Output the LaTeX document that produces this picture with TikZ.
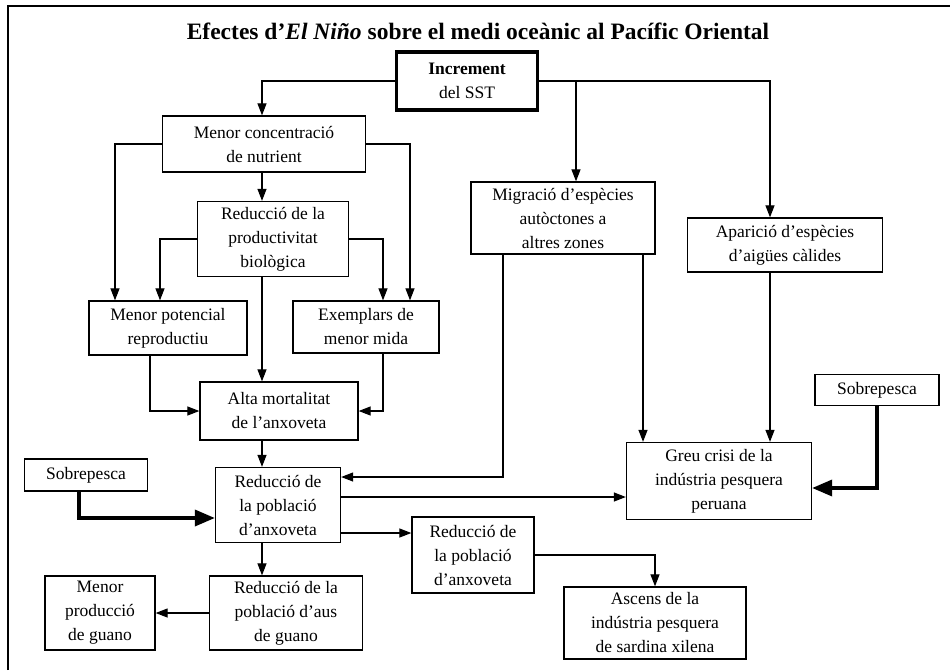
\documentclass[tikz,border=0pt]{standalone}
\usepackage{fontspec}
\setmainfont{Liberation Serif}
\usetikzlibrary{arrows.meta,calc}

\begin{document}
\begin{tikzpicture}[
  x=1pt, y=-1pt,
  font=\fontsize{17.5}{24}\selectfont,
  box/.style={draw, line width=1.3pt, align=center, inner sep=3pt},
  keybox/.style={box, line width=3.6pt},
  arrow/.style={-{Triangle[length=12pt,width=9pt]}, line width=1.2pt},
  heavy/.style={-{Triangle[length=20pt,width=16pt]}, line width=3.5pt}
]
\useasboundingbox (0,0) rectangle (950,670);
\draw[line width=1.5pt] (8,670) -- (8,6) -- (950,6);

\node[font=\fontsize{23.5}{26}\selectfont\bfseries] (title) at (478,31)
  {Efectes d’\textit{El Niño} sobre el medi oceànic al Pacífic Oriental};

% boxes
\node[keybox, minimum width=141pt, minimum height=58pt] (sst) at (467,81) {\textbf{Increment}\\del SST};
\node[box, minimum width=203pt, minimum height=56pt] (nutr) at (264,144) {Menor concentració\\de nutrient};
\node[box, minimum width=151pt, minimum height=75pt] (prod) at (273,239) {Reducció de la\\productivitat\\biològica};
\node[box, minimum width=158pt, minimum height=54pt] (pot) at (168,328) {Menor potencial\\reproductiu};
\node[box, minimum width=146pt, minimum height=52pt] (ex) at (366,327) {Exemplars de\\menor mida};
\node[box, minimum width=158pt, minimum height=58pt] (alta) at (279,411) {Alta mortalitat\\de l’anxoveta};
\node[box, minimum width=125pt, minimum height=75pt] (red1) at (278,505) {Reducció de\\la població\\d’anxoveta};
\node[box, minimum width=123pt, minimum height=32pt] (sobL) at (86,475) {Sobrepesca};
\node[box, minimum width=110pt, minimum height=74pt] (guano) at (100,613) {Menor\\producció\\de guano};
\node[box, minimum width=153pt, minimum height=74pt] (aus) at (286,613) {Reducció de la\\població d’aus\\de guano};
\node[box, minimum width=122pt, minimum height=76pt] (red2) at (473,555) {Reducció de\\la població\\d’anxoveta};
\node[box, minimum width=182pt, minimum height=72pt] (ascens) at (655,623) {Ascens de la\\indústria pesquera\\de sardina xilena};
\node[box, minimum width=184pt, minimum height=72pt] (mig) at (563,218) {Migració d’espècies\\autòctones a\\altres zones};
\node[box, minimum width=195pt, minimum height=54pt] (apar) at (785,245) {Aparició d’espècies\\d’aigües càlides};
\node[box, minimum width=124pt, minimum height=31pt] (sobR) at (877,390) {Sobrepesca};
\node[box, minimum width=185pt, minimum height=77pt] (greu) at (719,481) {Greu crisi de la\\indústria pesquera\\peruana};

% columns and side points for the wiring
\coordinate (spine) at (262,0);
\coordinate (nutrL) at (115,0);
\coordinate (nutrR) at (410,0);
\coordinate (prodL) at (160,0);
\coordinate (prodR) at (383,0);
\coordinate (potX) at (150,0);
\coordinate (migX) at (576,0);
\coordinate (migL) at (503,0);
\coordinate (migR) at (643,0);
\coordinate (aparX) at (770,0);
\coordinate (sobX) at (79,0);
\coordinate (r1in) at ([yshift=28pt]red1.east);
\coordinate (r1out) at ([yshift=8pt]red1.east);
\coordinate (r1low) at ([yshift=-28pt]red1.east);
\coordinate (r1side) at ([yshift=-13pt]red1.west);
\coordinate (greuside) at ([yshift=-7pt]greu.east);

% connectors
\draw[arrow] (sst.west) -| (nutr.north -| spine);
\draw[arrow] (sst.east) -| (apar.north -| aparX);
\draw[arrow] (sst.east -| migX) -- (mig.north -| migX);
\draw[arrow] (nutr.south -| spine) -- (prod.north -| spine);
\draw[arrow] (nutr.west) -| (pot.north -| nutrL);
\draw[arrow] (nutr.east) -| (ex.north -| nutrR);
\draw[arrow] (prod.west) -| (pot.north -| prodL);
\draw[arrow] (prod.east) -| (ex.north -| prodR);
\draw[arrow] (prod.south -| spine) -- (alta.north -| spine);
\draw[arrow] (pot.south -| potX) |- (alta.west);
\draw[arrow] (ex.south -| prodR) |- (alta.east);
\draw[arrow] (alta.south -| spine) -- (red1.north -| spine);
\draw[heavy] (sobL.south -| sobX) |- (r1side);
\draw[arrow] (mig.south -| migL) |- (r1in);
\draw[arrow] (mig.south -| migR) -- (greu.north -| migR);
\draw[arrow] (apar.south -| aparX) -- (greu.north -| aparX);
\draw[heavy] (sobR.south) |- (greuside);
\draw[arrow] (r1out) -- (r1out -| greu.west);
\draw[arrow] (r1low) -- (r1low -| red2.west);
\draw[arrow] (red1.south -| spine) -- (aus.north -| spine);
\draw[arrow] (aus.west) -- (guano.east);
\draw[arrow] (red2.east) -| (ascens.north);
\end{tikzpicture}
\end{document}
